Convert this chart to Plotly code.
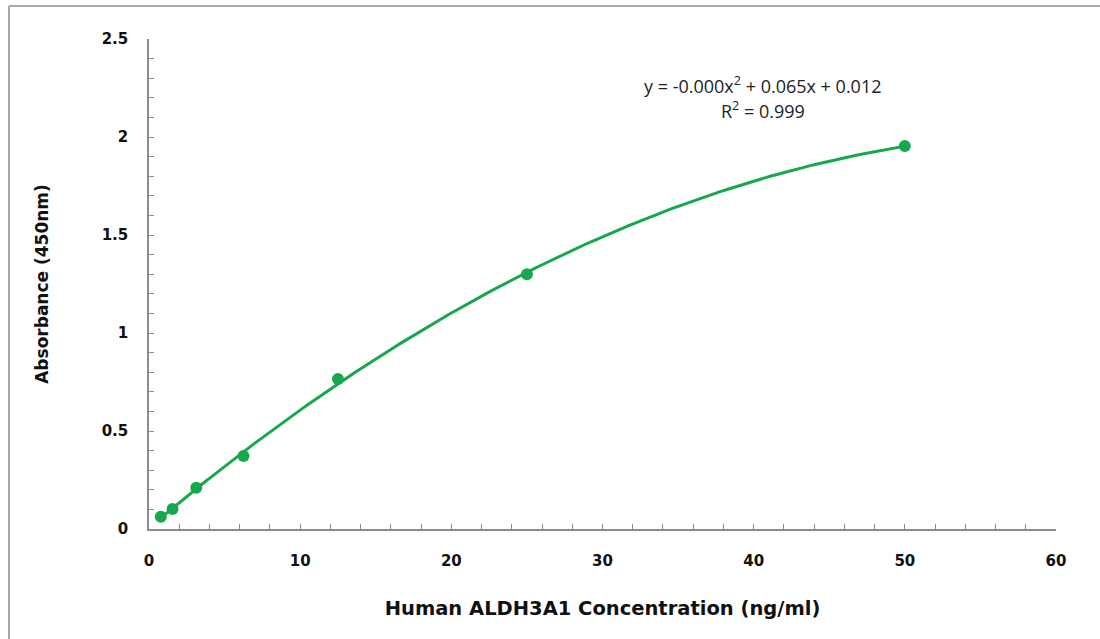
import numpy as np
import plotly.graph_objects as go

# Data
concentration = [0.78, 1.56, 3.125, 6.25, 12.5, 25, 50]
absorbance = [0.062, 0.102, 0.21, 0.372, 0.765, 1.30, 1.954]
equation_text = "y = -0.000x<sup>2</sup> + 0.065x + 0.012"
r2_text = "R<sup>2</sup> = 0.999"
x_title = "Human ALDH3A1 Concentration (ng/ml)"
y_title = "Absorbance (450nm)"

GREEN = "#17a84f"
AXIS = "#8c8c8c"

# Polynomial (order 2) trendline fitted from the data
coef = np.polyfit(concentration, absorbance, 2)
xs = np.linspace(min(concentration), max(concentration), 200)
ys = np.polyval(coef, xs)

fig = go.Figure()
fig.add_trace(go.Scatter(x=xs, y=ys, mode="lines",
                         line=dict(color=GREEN, width=3),
                         hoverinfo="skip", showlegend=False))
fig.add_trace(go.Scatter(x=concentration, y=absorbance, mode="markers",
                         marker=dict(color=GREEN, size=12),
                         showlegend=False))

tick_font = dict(family="DejaVu Sans, Arial, sans-serif", size=15, color="#111111", weight="bold")
xtitle_font = dict(family="DejaVu Sans, Arial, sans-serif", size=19.5, color="#111111", weight="bold")
ytitle_font = dict(family="DejaVu Sans, Arial, sans-serif", size=17, color="#111111", weight="bold")

fig.update_xaxes(range=[0, 60], dtick=10, tick0=0, showgrid=False, zeroline=False,
                 showline=True, linecolor=AXIS, linewidth=1.5,
                 ticks="inside", ticklen=5, tickcolor=AXIS, tickwidth=1.2,
                 minor=dict(dtick=2, ticks="inside", ticklen=5, tickcolor=AXIS, tickwidth=1, showgrid=False),
                 tickfont=tick_font, ticklabelstandoff=17,
                 title=dict(text=x_title, font=xtitle_font, standoff=33))
fig.update_yaxes(range=[0, 2.5], dtick=0.5, tick0=0, showgrid=False, zeroline=False,
                 showline=True, linecolor=AXIS, linewidth=1.5,
                 ticks="inside", ticklen=5, tickcolor=AXIS, tickwidth=1.2,
                 minor=dict(dtick=0.1, ticks="inside", ticklen=5, tickcolor=AXIS, tickwidth=1, showgrid=False),
                 tickfont=tick_font, ticklabelstandoff=16,
                 title=dict(text=y_title, font=ytitle_font, standoff=49))

eq_font = dict(family="Open Sans, Liberation Sans, sans-serif", size=18, color="#222222")
fig.add_annotation(x=40.6, y=2.265, xref="x", yref="y", text=equation_text,
                   showarrow=False, font=eq_font)
fig.add_annotation(x=40.6, y=2.138, xref="x", yref="y", text=r2_text,
                   showarrow=False, font=eq_font)

# Outer chart border (left and top edges visible in the reference)
bx = (9 - 149) / 907
by = (529 - 6) / 490
fig.add_shape(type="line", xref="paper", yref="paper",
              x0=bx, x1=bx, y0=by, y1=(529 - 645) / 490,
              line=dict(color="#a8a8a8", width=2))
fig.add_shape(type="line", xref="paper", yref="paper",
              x0=bx, x1=(1105 - 149) / 907, y0=by, y1=by,
              line=dict(color="#a8a8a8", width=2))

fig.update_layout(width=1100, height=639,
                  margin=dict(l=149, r=44, t=39, b=110, autoexpand=False),
                  paper_bgcolor="white", plot_bgcolor="white",
                  showlegend=False)

fig.write_html("out.html", config={"displayModeBar": False},
               post_script="document.body.style.margin='0';document.body.style.overflow='hidden';")
